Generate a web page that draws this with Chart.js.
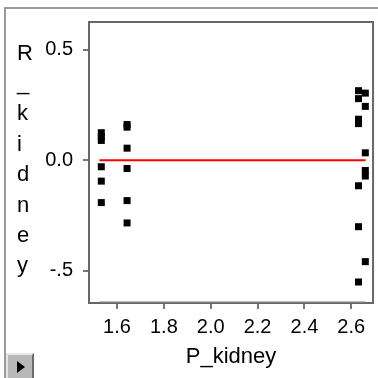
<!DOCTYPE html>
<html lang="en">
<head>
<meta charset="UTF-8">
<title>R_kidney by P_kidney</title>
<script src="https://cdn.jsdelivr.net/npm/chart.js@4.4.1/dist/chart.umd.min.js"></script>
<style>
  html, body { margin: 0; padding: 0; background: #fff; overflow: hidden; }
  #wrap { position: relative; width: 378px; height: 378px; }
  #outer { position: absolute; left: 4px; top: 7px; width: 400px; height: 400px;
           border-top: 2px solid #9a9a9a; border-left: 2px solid #9a9a9a; }
  #chart { position: absolute; left: 0; top: 0; }
  #btn { position: absolute; left: 6px; top: 353px; width: 24px; height: 23px; background: #b8b8b8;
         border: 2px solid; border-color: #e6e6e6 #6a6a6a #6a6a6a #e6e6e6; }
  #btn::after { content: ''; position: absolute; left: 9px; top: 6px; border-left: 8px solid #000;
                border-top: 6px solid transparent; border-bottom: 6px solid transparent; }
</style>
</head>
<body>
<div id="wrap">
  <div id="outer"></div>
  <canvas id="chart" width="378" height="378"></canvas>
  <div id="btn"></div>
</div>
<script>
// data
const pKidney = [1.533, 1.533, 1.533, 1.533, 1.533, 1.533,
                 1.643, 1.643, 1.643, 1.643, 1.643, 1.643,
                 2.631, 2.631, 2.631, 2.631, 2.631, 2.631, 2.631,
                 2.660, 2.660, 2.660, 2.660, 2.660, 2.660];
const rKidney = [0.125, 0.107, 0.090, -0.029, -0.094, -0.191,
                 0.162, 0.150, 0.055, -0.037, -0.182, -0.283,
                 0.315, 0.279, 0.186, 0.166, -0.115, -0.300, -0.550,
                 0.304, 0.244, 0.034, -0.046, -0.071, -0.458];
const fitX = [1.525, 2.661];
const fitY = [0, 0];
const xTicks = [1.6, 1.8, 2.0, 2.2, 2.4, 2.6];
const yTicks = [-0.5, 0, 0.5];
const yTickLabels = ['-.5', '0.0', '0.5'];
const xTitle = 'P_kidney';
const yTitle = 'R_kidney';

const X_MIN = 1.4805, X_MAX = 2.693;
const Y_MIN = -0.645, Y_MAX = 0.6255;
const FONT = 'Liberation Sans, Arial, sans-serif';

// plot frame + stacked y title
const framePlugin = {
    id: 'frame',
    beforeDatasetsDraw(chart) {
        const { ctx, chartArea: a } = chart;
        ctx.save();
        ctx.strokeStyle = '#676767';
        ctx.lineWidth = 2;
        ctx.strokeRect(a.left, a.top, a.right - a.left, a.bottom - a.top);
        ctx.restore();
    },
    afterDraw(chart) {
        const ctx = chart.ctx;
        ctx.save();
        ctx.fillStyle = '#000';
        ctx.font = '22px ' + FONT;
        ctx.textAlign = 'left';
        ctx.textBaseline = 'alphabetic';
        yTitle.split('').forEach((ch, i) => {
            ctx.fillText(ch, 17, 59.5 + i * 30.4);
        });
        ctx.restore();
    }
};

const ctx = document.getElementById('chart').getContext('2d');
new Chart(ctx, {
    data: {
        datasets: [
            {
                type: 'scatter',
                data: pKidney.map((x, i) => ({ x: x, y: rKidney[i] })),
                pointStyle: 'rect',
                pointRadius: 4.95,
                backgroundColor: '#000',
                borderWidth: 0,
                order: 0
            },
            {
                type: 'line',
                data: fitX.map((x, i) => ({ x: x, y: fitY[i] })),
                borderColor: '#ff0000',
                borderWidth: 2,
                pointRadius: 0,
                order: 1
            },
            {
                type: 'line',
                data: fitX.map(x => ({ x: x, y: Y_MIN })),
                borderColor: '#7a7a7a',
                borderWidth: 3,
                pointRadius: 0,
                order: 2
            }
        ]
    },
    options: {
        responsive: false,
        animation: false,
        layout: { padding: { left: 0, top: 13, right: 2, bottom: 0 } },
        plugins: { legend: { display: false }, tooltip: { enabled: false } },
        scales: {
            x: {
                type: 'linear',
                min: X_MIN,
                max: X_MAX,
                afterBuildTicks: s => { s.ticks = xTicks.map(v => ({ value: v })); },
                afterFit: s => { s.height = 75; },
                ticks: {
                    autoSkip: false, maxRotation: 0, padding: 6,
                    color: '#000', font: { family: FONT, size: 20 },
                    callback: v => Number(v).toFixed(1)
                },
                grid: { drawOnChartArea: false, drawTicks: true, tickLength: 6, color: '#777', lineWidth: 2 },
                border: { display: false },
                title: {
                    display: true, text: xTitle, color: '#000',
                    font: { family: FONT, size: 22 }, padding: { top: 0, bottom: 8 }
                }
            },
            y: {
                type: 'linear',
                min: Y_MIN,
                max: Y_MAX,
                afterBuildTicks: s => { s.ticks = yTicks.map(v => ({ value: v })); },
                afterFit: s => { s.width = 89; },
                ticks: {
                    autoSkip: false, padding: 10,
                    color: '#000', font: { family: FONT, size: 20 },
                    callback: v => yTickLabels[yTicks.indexOf(v)]
                },
                grid: { drawOnChartArea: false, drawTicks: true, tickLength: 6, color: '#777', lineWidth: 2 },
                border: { display: false }
            }
        }
    },
    plugins: [framePlugin]
});
</script>
</body>
</html>
